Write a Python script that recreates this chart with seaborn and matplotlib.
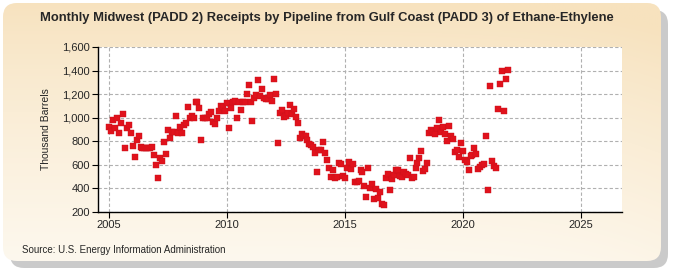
import numpy as np
import pandas as pd
import matplotlib
matplotlib.use("Agg")
import matplotlib.pyplot as plt
from matplotlib.patches import FancyBboxPatch
from matplotlib.ticker import FuncFormatter
import seaborn as sns

# ---- data (thousand barrels, monthly Jan 2005 - Dec 2021) ----
v2005 = [924, 887, 983, 916, 995, 873, 958, 1031, 746, 916, 938, 873]
v2006 = [763, 669, 811, 848, 755, 740, 745, 745, 740, 745, 755, 684]
v2007 = [599, 491, 661, 633, 796, 695, 896, 830, 877, 880, 1017, 870]
v2008 = [920, 870, 940, 958, 1093, 1000, 1017, 995, 1136, 1136, 1085, 811]
v2009 = [1000, 1000, 1000, 1029, 1051, 966, 947, 1000, 1060, 1102, 1091, 1060]
v2010 = [1127, 910, 1080, 1136, 1144, 995, 1136, 1065, 1136, 1136, 1201, 1278]
v2011 = [1136, 972, 1170, 1193, 1323, 1187, 1244, 1170, 1161, 1161, 1193, 1142]
v2012 = [1329, 1201, 788, 1043, 1065, 1009, 1017, 1043, 1108, 1031, 1074, 1009]
v2013 = [958, 830, 859, 845, 845, 811, 774, 768, 755, 703, 542, 726]
v2014 = [726, 797, 703, 641, 576, 500, 556, 486, 500, 618, 609, 508]
v2015 = [491, 571, 627, 565, 609, 452, 457, 462, 556, 542, 421, 327]
v2016 = [576, 406, 440, 310, 395, 322, 372, 270, 259, 491, 520, 389]
v2017 = [477, 510, 556, 556, 508, 500, 542, 525, 510, 661, 486, 500]
v2018 = [576, 613, 661, 717, 548, 565, 618, 873, 896, 877, 862, 910]
v2019 = [981, 877, 924, 862, 802, 932, 848, 819, 712, 726, 669, 788]
v2020 = [717, 641, 627, 556, 678, 684, 746, 695, 565, 585, 599, 604]
v2021 = [848, 389, 1272, 635, 590, 576, 1074, 1289, 1397, 1057, 1329, 1405]

values = (v2005 + v2006 + v2007 + v2008 + v2009 + v2010 + v2011 + v2012 +
          v2013 + v2014 + v2015 + v2016 + v2017 + v2018 + v2019 + v2020 + v2021)
dates = pd.date_range("2005-01-01", periods=len(values), freq="MS")
x_ticks = [2005, 2010, 2015, 2020, 2025]
y_ticks = [200, 400, 600, 800, 1000, 1200, 1400, 1600]

title = "Monthly Midwest (PADD 2) Receipts by Pipeline from Gulf Coast (PADD 3) of Ethane-Ethylene"
ylabel = "Thousand Barrels"
source = "Source: U.S. Energy Information Administration"

df = pd.DataFrame({"year": dates.year + (dates.month - 1) / 12.0, "value": values})

sns.set_theme(style="white")
plt.rcParams["font.family"] = ["Liberation Sans", "DejaVu Sans"]

fig = plt.figure(figsize=(6.75, 2.75), dpi=100)
fig.patch.set_facecolor("white")

# ---- card background with shadow and gradient ----
bg = fig.add_axes([0, 0, 1, 1], zorder=-10)
bg.set_xlim(0, 675)
bg.set_ylim(275, 0)
bg.axis("off")
shadow = FancyBboxPatch((10, 10), 658, 258, boxstyle="round,pad=0,rounding_size=14",
                        facecolor="#b4b4b4", edgecolor="none", alpha=0.7)
bg.add_patch(shadow)
card = FancyBboxPatch((3, 3), 658, 258, boxstyle="round,pad=0,rounding_size=14",
                      facecolor="none", edgecolor="none")
bg.add_patch(card)
h = np.linspace(0, 1, 256)[:, None]
w = np.linspace(0, 1, 256)[None, :]
top = np.array([247, 226, 190]) / 255.0
bot = np.array([253, 248, 238]) / 255.0
t = np.clip(h ** 0.8 - 0.15 * (w ** 6), 0, 1)
grad = top[None, None, :] * (1 - t[..., None]) + bot[None, None, :] * t[..., None]
im = bg.imshow(grad, extent=(3, 661, 261, 3), aspect="auto", zorder=1)
im.set_clip_path(card)

# ---- plot ----
ax = fig.add_axes([98 / 675, 1 - 212 / 275, (622 - 98) / 675, (212 - 47) / 275])
ax.set_facecolor("white")
sns.scatterplot(data=df, x="year", y="value", marker="s", s=15, color="#e0121c",
                edgecolor="#c8101a", linewidth=0.3, ax=ax, zorder=3, legend=False)

ax.set_xlim(2004.53, 2026.76)
ax.set_ylim(200, 1600)
ax.set_xticks(x_ticks)
ax.set_yticks(y_ticks)
ax.yaxis.set_major_formatter(FuncFormatter(lambda v, p: f"{int(v):,}"))
ax.grid(True, color="#b0b0b0", linestyle=(0, (3, 2)), linewidth=0.8)
ax.set_axisbelow(True)
for s in ["top", "right"]:
    ax.spines[s].set_visible(False)
for s in ["left", "bottom"]:
    ax.spines[s].set_color("black")
    ax.spines[s].set_linewidth(1.0)
ax.tick_params(axis="both", which="both", direction="out", length=4, width=0.8,
               color="black", labelsize=8, pad=2, bottom=True, left=True)
ax.set_xlabel("")
ax.set_ylabel(ylabel, fontsize=7.5, labelpad=8)

fig.text(0.485, 1 - 18 / 275, title, ha="center", va="center", fontsize=9.4,
         fontweight="bold")
fig.text(22 / 675, 1 - 250 / 275, source, ha="left", va="center", fontsize=7)

fig.savefig("out.png", dpi=100)
